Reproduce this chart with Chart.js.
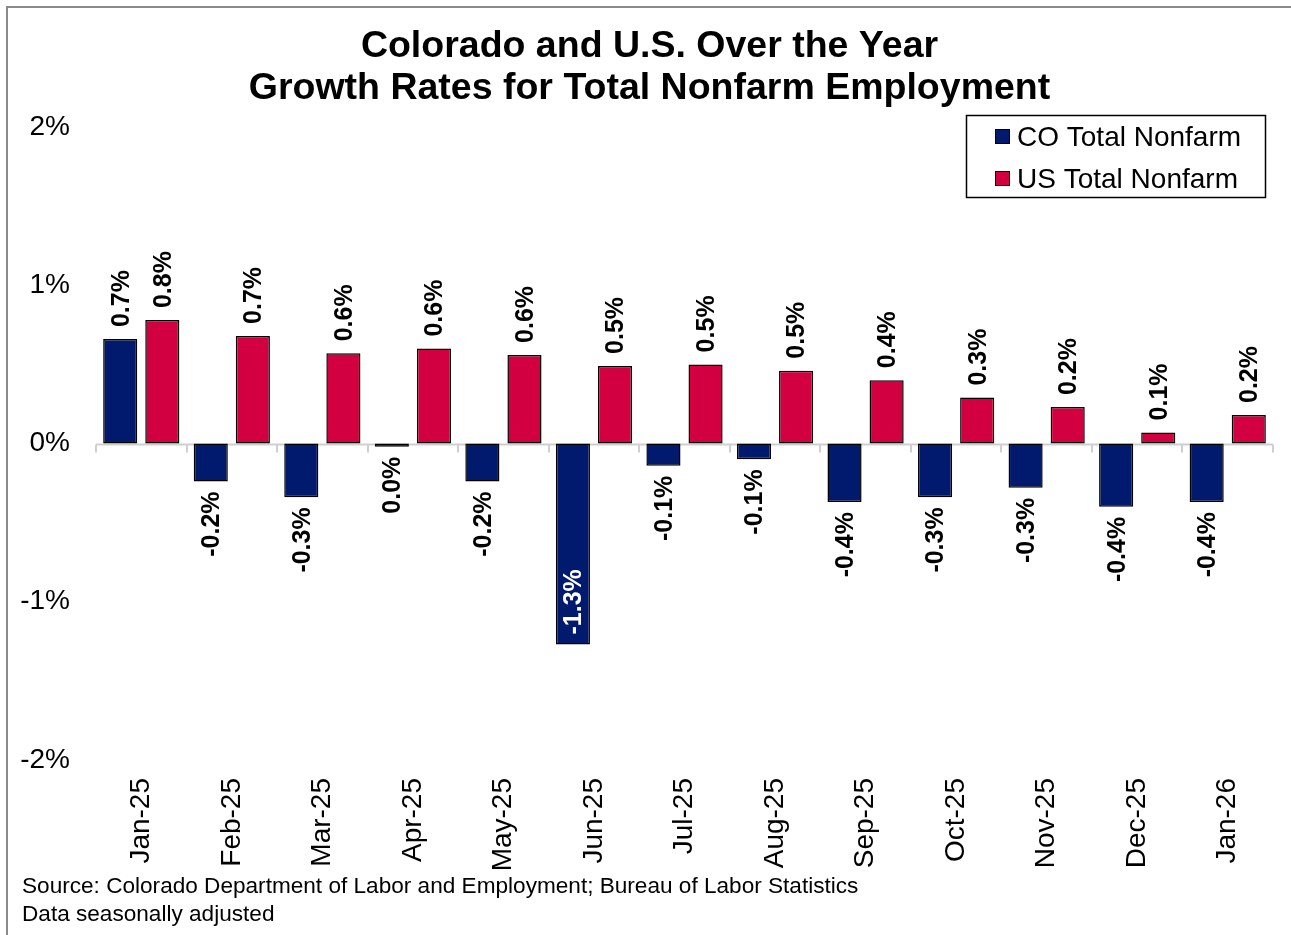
<!DOCTYPE html>
<html lang="en">
<head>
    <meta charset="UTF-8">
    <title>Colorado and U.S. Over the Year Growth Rates</title>
    <script src="https://cdn.jsdelivr.net/npm/chart.js"></script>
    <style>
        html, body { margin: 0; padding: 0; background: #fff; }
        #wrap { width: 1291px; height: 935px; }
    </style>
</head>
<body>
<div id="wrap"><canvas id="nonfarmChart" width="1291" height="935"></canvas></div>

<script>
    // values (percent, over-the-year growth)
    const months = ["Jan-25", "Feb-25", "Mar-25", "Apr-25", "May-25", "Jun-25", "Jul-25",
                    "Aug-25", "Sep-25", "Oct-25", "Nov-25", "Dec-25", "Jan-26"];
    const coValues = [0.66, -0.24, -0.34, -0.02, -0.24, -1.27, -0.14, -0.10, -0.37, -0.34, -0.28, -0.40, -0.37];
    const usValues = [0.78, 0.68, 0.57, 0.60, 0.56, 0.49, 0.50, 0.46, 0.40, 0.29, 0.23, 0.07, 0.18];
    const yTicks = [-2, -1, 0, 1, 2];
    const seriesNames = ["CO Total Nonfarm", "US Total Nonfarm"];

    const FONT = "'Liberation Sans', Arial, sans-serif";
    const NAVY = "#011a6e";
    const RED = "#d20040";

    function fmt(v) {
        if (Math.abs(v) < 0.05) return "0.0%";
        return v.toFixed(1) + "%";
    }

    // zero line with tick marks between categories
    const zeroLine = {
        id: "zeroLine",
        beforeDatasetsDraw(chart) {
            const ctx = chart.ctx, y = chart.scales.y;
            const y0 = Math.round(y.getPixelForValue(0)) + 0.5;
            const step = (chart.chartArea.right - chart.chartArea.left) / months.length;
            ctx.save();
            ctx.strokeStyle = "#cfcfcf";
            ctx.lineWidth = 2;
            ctx.beginPath();
            ctx.moveTo(chart.chartArea.left, y0);
            ctx.lineTo(chart.chartArea.right, y0);
            for (let i = 0; i <= months.length; i++) {
                const px = Math.round(chart.chartArea.left + i * step);
                ctx.moveTo(px, y0);
                ctx.lineTo(px, y0 + 8);
            }
            ctx.stroke();
            ctx.restore();
        }
    };

    // rotated value labels
    const valueLabels = {
        id: "valueLabels",
        afterDatasetsDraw(chart) {
            const ctx = chart.ctx;
            ctx.save();
            ctx.font = "bold 25px " + FONT;
            ctx.textBaseline = "middle";
            chart.data.datasets.forEach((ds, di) => {
                const meta = chart.getDatasetMeta(di);
                meta.data.forEach((bar, i) => {
                    const v = ds.data[i];
                    let ty, align, color = "#000";
                    if (v >= 0) {
                        ty = bar.y - 12; align = "left";
                    } else if (v < -1) {
                        ty = bar.y - 10; align = "left"; color = "#fff";
                    } else {
                        ty = bar.y + 10; align = "right";
                    }
                    ctx.save();
                    ctx.translate(bar.x + 1.5, ty);
                    ctx.rotate(-Math.PI / 2);
                    ctx.textAlign = align;
                    ctx.fillStyle = color;
                    ctx.fillText(fmt(v), 0, 0);
                    ctx.restore();
                });
            });
            ctx.restore();
        }
    };

    // title, legend box, source note and frame
    const decorations = {
        id: "decorations",
        afterDraw(chart) {
            const ctx = chart.ctx, area = chart.chartArea;
            ctx.save();

            // frame (top and left edges)
            ctx.strokeStyle = "#8a8a8a";
            ctx.lineWidth = 2;
            ctx.beginPath();
            ctx.moveTo(7, chart.height);
            ctx.lineTo(7, 7);
            ctx.lineTo(chart.width, 7);
            ctx.stroke();

            // title
            ctx.fillStyle = "#000";
            ctx.textAlign = "center";
            ctx.textBaseline = "alphabetic";
            ctx.font = "bold 37.5px " + FONT;
            const cx = chart.width / 2 + 4;
            ctx.fillText("Colorado and U.S. Over the Year", cx, 57);
            ctx.fillText("Growth Rates for Total Nonfarm Employment", cx, 99);

            // legend
            const lx = area.right - 307, ly = area.top - 12;
            ctx.lineWidth = 1.5;
            ctx.strokeStyle = "#000";
            ctx.strokeRect(lx + 0.5, ly + 0.5, 299, 82);
            ctx.font = "28px " + FONT;
            ctx.textAlign = "left";
            chart.data.datasets.forEach((ds, i) => {
                const rowY = ly + 14 + i * 42;
                ctx.fillStyle = ds.backgroundColor;
                ctx.fillRect(lx + 29, rowY, 15, 15);
                ctx.lineWidth = 1;
                ctx.strokeRect(lx + 29.5, rowY + 0.5, 14, 14);
                ctx.fillStyle = "#000";
                ctx.fillText(ds.label, lx + 51, rowY + 17);
            });

            // source note
            ctx.font = "22.6px " + FONT;
            ctx.fillText("Source: Colorado Department of Labor and Employment; Bureau of Labor Statistics", 22, 893);
            ctx.fillText("Data seasonally adjusted", 22, 921);
            ctx.restore();
        }
    };

    const ctx = document.getElementById("nonfarmChart").getContext("2d");
    new Chart(ctx, {
        type: "bar",
        data: {
            labels: months,
            datasets: [
                {
                    label: seriesNames[0],
                    data: coValues,
                    backgroundColor: NAVY,
                    borderColor: "#000",
                    borderWidth: 1.5,
                    borderSkipped: false
                },
                {
                    label: seriesNames[1],
                    data: usValues,
                    backgroundColor: RED,
                    borderColor: "#000",
                    borderWidth: 1.5,
                    borderSkipped: false
                }
            ]
        },
        options: {
            responsive: false,
            animation: false,
            devicePixelRatio: 1,
            layout: { padding: { top: 127, left: 0, right: 18, bottom: 0 } },
            datasets: { bar: { categoryPercentage: 0.93, barPercentage: 0.81 } },
            scales: {
                x: {
                    grid: { display: false, drawTicks: false },
                    border: { display: false },
                    ticks: {
                        minRotation: 90,
                        maxRotation: 90,
                        padding: 18,
                        color: "#000",
                        font: { family: FONT, size: 28 }
                    },
                    afterFit(scale) { scale.height = 175; }
                },
                y: {
                    min: -2,
                    max: 2,
                    grid: { display: false, drawTicks: false },
                    border: { display: false },
                    afterBuildTicks(scale) { scale.ticks = yTicks.map(v => ({ value: v })); },
                    ticks: {
                        padding: 26,
                        color: "#000",
                        font: { family: FONT, size: 28 },
                        callback: v => v + "%"
                    },
                    afterFit(scale) { scale.width = 96; }
                }
            },
            plugins: {
                legend: { display: false },
                title: { display: false },
                tooltip: { enabled: false }
            }
        },
        plugins: [zeroLine, valueLabels, decorations]
    });
</script>
</body>
</html>
